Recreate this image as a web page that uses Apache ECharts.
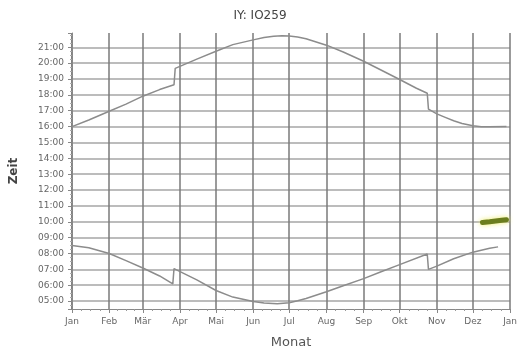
<!DOCTYPE html>
<html><head><meta charset="utf-8">
<script src="https://cdn.jsdelivr.net/npm/echarts@6/dist/echarts.min.js"></script>
<style>html,body{margin:0;padding:0;background:#fff}#c{width:520px;height:354px}</style>
</head><body><div id="c"></div>
<script>
const YEAR = 2009;
const monthLabels = ['Jan','Feb','Mär','Apr','Mai','Jun','Jul','Aug','Sep','Okt','Nov','Dez','Jan'];

const sunsetDates = ['01-01','01-15','02-01','02-15','03-01','03-15','03-27','03-28','04-15','05-01','05-15','06-01','06-10','06-18','06-25','07-01','07-08','07-15','08-01','08-15','09-01','09-15','10-01','10-15','10-24','10-25','11-01','11-08','11-15','11-22','12-01','12-08','12-15','12-29'];
const sunsetTimes = ['16:00','16:25','16:58','17:25','17:55','18:20','18:38','19:40','20:15','20:45','21:10','21:28','21:37','21:42','21:44','21:43','21:39','21:32','21:08','20:42','20:07','19:35','18:58','18:25','18:06','17:06','16:48','16:35','16:22','16:12','16:03','15:59','15:59','16:00'];

const sunriseDates = ['01-01','01-15','02-01','02-15','03-01','03-15','03-26','03-27','04-15','05-01','05-15','06-01','06-10','06-21','07-01','07-08','07-15','08-01','08-15','09-01','09-15','10-01','10-24','10-25','11-01','11-15','12-01','12-15','12-22'];
const sunriseTimes = ['08:30','08:22','08:00','07:33','07:05','06:35','06:05','07:03','06:20','05:40','05:15','04:58','04:53','04:50','04:54','05:01','05:10','05:35','05:58','06:25','06:50','07:18','07:58','07:00','07:12','07:40','08:05','08:20','08:25'];

const markDates = ['12-09','12-15','12-20','12-25','12-29'];
const markTimes = ['09:57','10:00','10:03','10:06','10:08'];

function ts(md){const [m,d]=md.split('-').map(Number);return Date.UTC(YEAR,m-1,d);}
function hrs(t){const [h,m]=t.split(':').map(Number);return h+m/60;}
function pts(ds,ts_){return ds.map((d,i)=>[ts(d),hrs(ts_[i])]);}

const chart = echarts.init(document.getElementById('c'));
const grey = '#8c8c8c';
const F = 'DejaVu Sans';
chart.setOption({
  useUTC: true,
  animation: false,
  title: {text:'IY: IO259', left:'center', top:5, textStyle:{fontFamily:F, fontSize:12, fontWeight:'normal', color:'#444'}},
  grid: {left:72, right:9, top:33, bottom:44},
  xAxis: {
    type:'time', min:Date.UTC(YEAR,0,1), max:Date.UTC(YEAR+1,0,1), splitNumber:12,
    name:'Monat', nameLocation:'middle', nameGap:27,
    nameTextStyle:{fontFamily:F, fontSize:13, color:'#555'},
    axisLine:{lineStyle:{color:'#888'}},
    axisTick:{show:true, length:4, lineStyle:{color:'#888'}},
    minorTick:{show:true, splitNumber:4, length:2, lineStyle:{color:'#999'}},
    axisLabel:{fontFamily:F, fontSize:9, color:'#666', margin:8, hideOverlap:false, showMaxLabel:true, showMinLabel:true,
      formatter:function(v){const d=new Date(v);return monthLabels[d.getUTCFullYear()>YEAR?12:d.getUTCMonth()];}},
    splitLine:{show:true, lineStyle:{color:'#7a7a7a', width:1.5}}
  },
  yAxis: {
    type:'value', min:4.5, max:21.9, splitNumber:17,
    name:'Zeit', nameLocation:'middle', nameGap:52,
    nameTextStyle:{fontFamily:F, fontSize:12, fontWeight:'bold', color:'#444'},
    axisLine:{show:true, lineStyle:{color:'#888'}},
    axisTick:{show:true, length:4, lineStyle:{color:'#888'}},
    minorTick:{show:true, splitNumber:4, length:2, lineStyle:{color:'#aaa'}},
    axisLabel:{fontFamily:F, fontSize:9, color:'#666', margin:8,
      formatter:function(v){if(Math.abs(v-Math.round(v))>1e-6)return '';const h=Math.round(v);return (h<10?'0':'')+h+':00';}},
    splitLine:{show:true, showMinLine:false, showMaxLine:false, lineStyle:{color:'#a6a6a6', width:1.5}}
  },
  series: [
    {type:'line', data:pts(sunsetDates,sunsetTimes), smooth:false, showSymbol:false, lineStyle:{color:grey, width:1.5}},
    {type:'line', data:pts(sunriseDates,sunriseTimes), smooth:false, showSymbol:false, lineStyle:{color:grey, width:1.5}},
    {type:'line', data:pts(markDates,markTimes), showSymbol:false, lineStyle:{color:'#6b7d1e', width:5, cap:'round', shadowColor:'rgba(235,235,90,0.9)', shadowBlur:5}}
  ]
});
</script></body></html>
